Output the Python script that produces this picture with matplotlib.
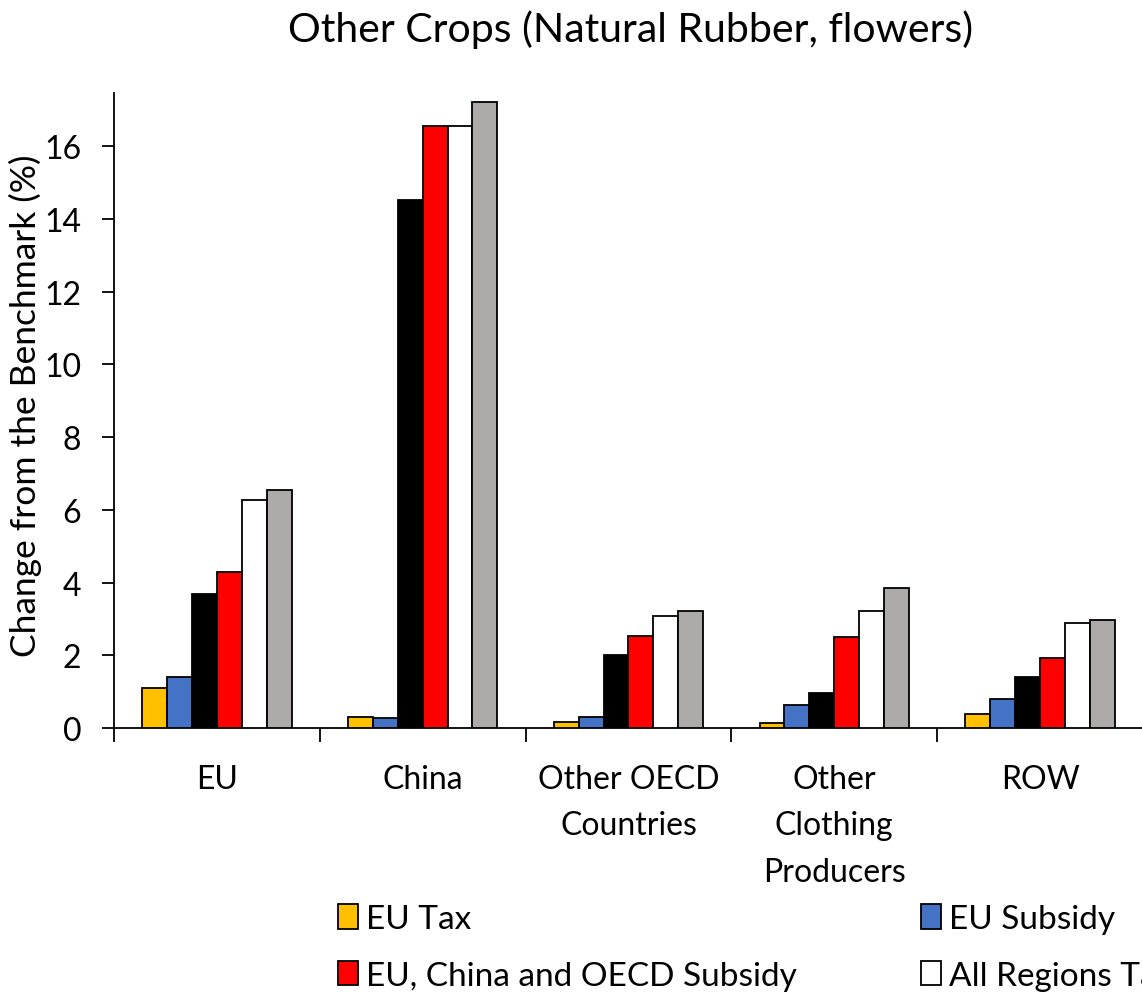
import numpy as np
import matplotlib
matplotlib.use("Agg")
import matplotlib.pyplot as plt

plt.rcParams['font.family'] = ['Lato', 'DejaVu Sans']

categories = ["EU", "China", "Other OECD\nCountries", "Other\nClothing\nProducers", "ROW"]

eu_tax = [1.10, 0.30, 0.17, 0.13, 0.38]
eu_subsidy = [1.39, 0.27, 0.31, 0.64, 0.81]
eu_china_subsidy = [3.70, 14.51, 2.02, 0.96, 1.41]
eu_china_oecd_subsidy = [4.30, 16.57, 2.52, 2.51, 1.92]
all_regions_tax = [6.27, 16.57, 3.07, 3.21, 2.89]
all_regions_subsidy = [6.55, 17.23, 3.23, 3.85, 2.97]

series_names = ["EU Tax", "EU Subsidy", "EU and China Subsidy",
                "EU, China and OECD Subsidy", "All Regions Tax", "All Regions Subsidy"]
series = [eu_tax, eu_subsidy, eu_china_subsidy, eu_china_oecd_subsidy,
          all_regions_tax, all_regions_subsidy]
colors = ["#FFC000", "#4472C4", "#000000", "#FF0000", "#FFFFFF", "#AEAAAA"]

fig = plt.figure(figsize=(11.42, 9.95), dpi=100)
ax = fig.add_axes([0.0998, 0.2673, 0.901, 0.638])

x = np.arange(len(categories))
bw = 0.121
bars = []
for i, (vals, name, c) in enumerate(zip(series, series_names, colors)):
    off = (i - 2.5) * bw
    b = ax.bar(x + off, vals, bw, color=c, edgecolor="black", linewidth=1.3,
               label=name, zorder=3)
    bars.append(b)

ax.set_xlim(-0.5, len(categories) - 0.5)
ax.set_ylim(0, 17.46)
ax.set_yticks(range(0, 17, 2))
ax.tick_params(axis='y', labelsize=23, length=8.6, width=1.3, direction='out', pad=15)

# category ticks sit on the boundaries, labels in the middle
ax.set_xticks(np.arange(-0.5, len(categories), 1.0))
ax.set_xticklabels([])
ax.set_xticks(x, minor=True)
ax.set_xticklabels(categories, minor=True, fontsize=23, linespacing=1.68)
ax.tick_params(axis='x', which='major', length=10, width=1.3, direction='out')
ax.tick_params(axis='x', which='minor', length=0, pad=26)

for s in ['top', 'right']:
    ax.spines[s].set_visible(False)
ax.spines['left'].set_linewidth(1.3)
ax.spines['bottom'].set_linewidth(1.3)

ax.set_ylabel("Change from the Benchmark (%)", fontsize=25.5)
ax.yaxis.set_label_coords(-0.070, 0.51)
fig.suptitle("Other Crops (Natural Rubber, flowers)", fontsize=29.5, x=0.5525, y=0.990)

# legend is filled row by row (3 columns, the last one falls off the page)
order = [0, 3, 1, 4, 2, 5]
fig.legend([bars[k] for k in order], [series_names[k] for k in order],
           ncol=3, loc='upper left', bbox_to_anchor=(0.296, 0.0905),
           bbox_transform=fig.transFigure, frameon=False, fontsize=24,
           handlelength=0.6, handleheight=0.75, handletextpad=0.25,
           columnspacing=3.7, labelspacing=0.8, borderaxespad=0, borderpad=0)

fig.savefig("out.png", dpi=100)
